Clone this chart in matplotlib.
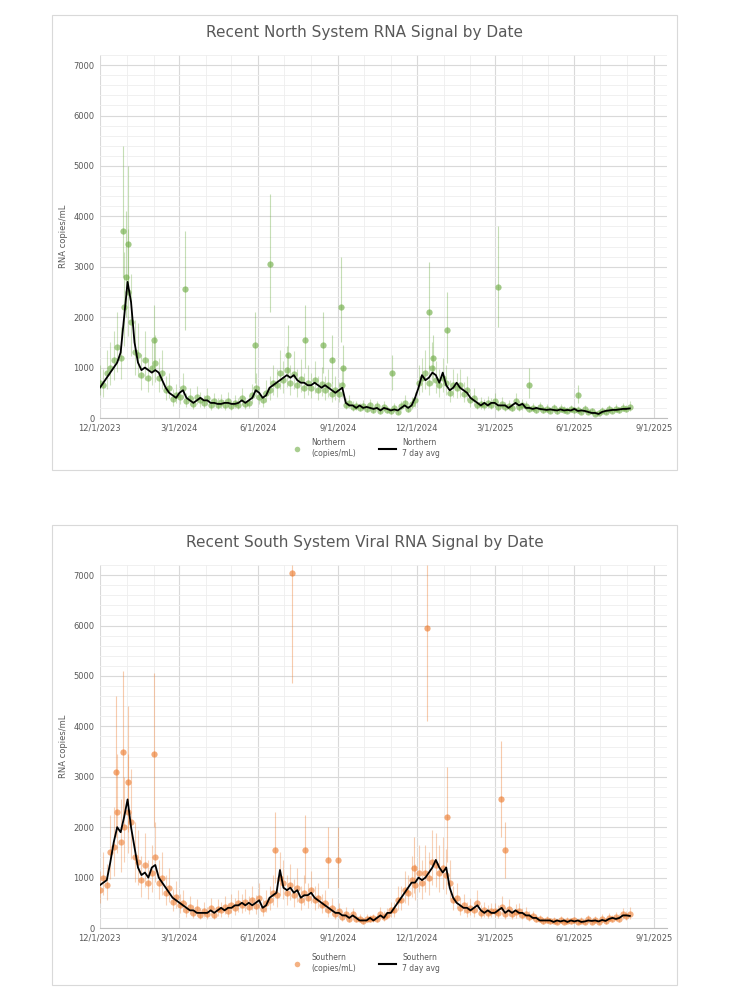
import numpy as np
import pandas as pd
import matplotlib
matplotlib.use("Agg")
import matplotlib.pyplot as plt
import matplotlib.dates as mdates
from matplotlib.lines import Line2D
from matplotlib.patches import Rectangle

START = "2023-12-01"
STEP = "4D"

NORTH_AVG = [
    600, 700, 800, 900, 1000, 1100, 1300, 2000,
    2700, 2300, 1500, 1100, 950, 1000, 950, 900,
    950, 900, 750, 600, 500, 450, 400,
    500, 550, 400, 350, 300, 350, 400, 350,
    350, 300, 300, 280, 280, 300, 300, 280,
    280, 300, 350, 300, 350, 400, 550,
    500, 400, 450, 600, 650, 700, 750, 800,
    850, 800, 850, 750, 700, 700, 650,
    650, 700, 650, 600, 650, 600, 550, 500,
    550, 600, 300, 250, 250, 200, 250,
    200, 220, 200, 180, 200, 150, 200, 180,
    150, 170, 150, 200, 250, 200, 250,
    400, 600, 850, 750, 800, 900, 850, 700,
    900, 650, 550, 600, 700, 600, 550, 500,
    400, 350, 300, 250, 300, 250, 300,
    300, 250, 250, 250, 200, 250, 300, 250,
    280, 200, 200, 180, 200, 180, 170,
    160, 170, 160, 150, 170, 150, 160, 150,
    180, 140, 150, 140, 120, 100, 100,
    80, 120, 140, 150, 160, 160, 170, 180,
    180, 190,
]
NORTH_RAW = [
    700, 650, 900, 1000, 1150, 1400, 1200, 2200,
    2500, 1900, 1300, 1250, 850, 1150, 800, 1000,
    1100, 800, 900, 550, 600, 380, 450,
    420, 600, 330, 400, 280, 420, 350, 300,
    400, 250, 330, 260, 320, 250, 340, 230,
    300, 260, 400, 280, 300, 450, 600,
    420, 350, 500, 550, 700, 650, 900, 750,
    950, 700, 880, 650, 780, 600, 700,
    600, 750, 560, 680, 560, 650, 480, 560,
    480, 650, 260, 300, 220, 230, 200,
    240, 180, 250, 150, 230, 130, 220, 160,
    130, 200, 120, 230, 300, 170, 280,
    350, 700, 800, 900, 700, 1000, 750, 650,
    800, 700, 500, 650, 600, 650, 480, 550,
    350, 400, 260, 280, 250, 290, 260,
    330, 220, 280, 210, 240, 200, 330, 220,
    250, 230, 170, 200, 160, 210, 150,
    180, 140, 190, 130, 180, 160, 140, 170,
    150, 160, 120, 170, 110, 130, 80,
    100, 140, 120, 170, 140, 180, 150, 200,
    170, 220,
]
# outlying samples with wide intervals: date, value, low, high
NORTH_OUT_DATES = ["2023-12-28", "2023-12-31", "2024-01-03", "2024-02-01", "2024-03-08",
                   "2024-05-28", "2024-06-15", "2024-07-05", "2024-07-25", "2024-08-15",
                   "2024-08-25", "2024-09-05", "2024-09-07", "2024-11-02", "2024-12-15",
                   "2024-12-20", "2025-01-05", "2025-03-05", "2025-04-10", "2025-06-05"]
NORTH_OUT_VAL = [3700, 2800, 3450, 1550, 2550, 1450, 3050, 1250, 1550, 1450,
                 1150, 2200, 1000, 900, 2100, 1200, 1750, 2600, 650, 450]
NORTH_OUT_LO = [2800, 2000, 2500, 1000, 1750, 700, 2100, 800, 1000, 900,
                700, 1500, 600, 550, 1000, 700, 1100, 1800, 400, 300]
NORTH_OUT_HI = [5400, 4100, 5000, 2250, 3700, 2100, 4450, 1850, 2250, 2100,
                1650, 3200, 1450, 1250, 3100, 1650, 2500, 3800, 1000, 650]

SOUTH_AVG = [
    850, 900, 950, 1300, 1700, 2000, 1900, 2200,
    2550, 2000, 1600, 1200, 1050, 1100, 1000, 1200,
    1250, 1000, 900, 800, 700, 600, 550,
    500, 450, 400, 350, 350, 300, 300, 300,
    300, 350, 300, 350, 400, 350, 400, 400,
    450, 450, 500, 450, 500, 450, 500,
    550, 400, 450, 600, 650, 700, 1150, 800,
    750, 800, 700, 750, 600, 650, 650,
    700, 600, 550, 500, 450, 400, 350, 300,
    300, 250, 250, 200, 250, 200, 150,
    150, 150, 200, 150, 200, 250, 200, 300,
    300, 400, 500, 600, 700, 800, 900,
    900, 1000, 950, 1000, 1100, 1200, 1350, 1200,
    1100, 1200, 800, 600, 500, 450, 400, 400,
    350, 400, 450, 350, 300, 350, 300,
    300, 350, 400, 300, 350, 300, 350, 300,
    300, 250, 250, 200, 200, 150, 150,
    150, 150, 120, 150, 130, 150, 120, 150,
    130, 150, 120, 130, 150, 140, 150,
    130, 160, 140, 180, 200, 180, 200, 250,
    250, 240,
]
SOUTH_RAW = [
    750, 1000, 850, 1500, 1600, 2300, 1700, 2000,
    2300, 2100, 1400, 1300, 950, 1250, 900, 1100,
    1400, 900, 1000, 700, 800, 520, 620,
    450, 500, 350, 420, 300, 380, 260, 340,
    280, 400, 260, 380, 350, 420, 330, 450,
    400, 500, 450, 520, 420, 550, 430,
    600, 380, 500, 550, 700, 650, 1000, 900,
    700, 850, 650, 800, 550, 700, 600,
    750, 550, 600, 450, 500, 350, 400, 280,
    330, 220, 280, 180, 270, 170, 180,
    130, 180, 170, 190, 170, 280, 220, 260,
    350, 350, 550, 550, 750, 700, 950,
    850, 1100, 900, 1100, 1000, 1300, 1250, 1100,
    1200, 1050, 900, 550, 600, 400, 450, 350,
    400, 350, 500, 300, 350, 300, 330,
    330, 300, 420, 280, 380, 270, 320, 330,
    260, 280, 220, 230, 180, 170, 130,
    160, 130, 140, 120, 160, 110, 140, 130,
    150, 120, 140, 110, 170, 120, 160,
    110, 180, 130, 200, 170, 210, 180, 270,
    230, 280,
]
SOUTH_OUT_DATES = ["2023-12-20", "2023-12-28", "2024-01-02", "2024-02-01", "2024-06-20",
                   "2024-07-10", "2024-07-25", "2024-08-20", "2024-09-01", "2024-11-28",
                   "2024-12-13", "2025-01-05", "2025-03-08", "2025-03-13"]
SOUTH_OUT_VAL = [3100, 3500, 2900, 3450, 1550, 7050, 1550, 1350, 1350, 1200,
                 5950, 2200, 2550, 1550]
SOUTH_OUT_LO = [1800, 2200, 1900, 2000, 900, 4850, 900, 800, 800, 700,
                4100, 1300, 1800, 1000]
SOUTH_OUT_HI = [4600, 5100, 4400, 5050, 2300, 7200, 2250, 2000, 2000, 1800,
                7200, 3200, 3700, 2100]

XTICKS = ["2023-12-01", "2024-03-01", "2024-06-01", "2024-09-01",
          "2024-12-01", "2025-03-01", "2025-06-01", "2025-09-01"]

GREEN = "#70ad47"
ORANGE = "#ed7d31"
GRAY = "#595959"


def draw_panel(fig, box, ax_rect, title, avg, raw, out, color, name):
    fig.patches.append(Rectangle((box[0], box[1]), box[2], box[3], transform=fig.transFigure,
                                 facecolor="white", edgecolor="#d9d9d9", lw=0.8, zorder=-10))
    ax = fig.add_axes(ax_rect)
    ax.patch.set_alpha(0)
    dates = pd.date_range(START, periods=len(avg), freq=STEP)
    raw = np.array(raw, dtype=float)
    ax.errorbar(dates, raw, yerr=[raw * 0.35, raw * 0.5], fmt="none", ecolor=color,
                alpha=0.35, elinewidth=0.8, zorder=1)
    ax.plot(dates, raw, "o", color=color, ms=4.5, alpha=0.6, mec="none", zorder=2)
    od, ov, lo, hi = out
    od = pd.to_datetime(od)
    ov = np.array(ov, dtype=float)
    ax.errorbar(od, ov, yerr=[ov - np.array(lo), np.array(hi) - ov], fmt="none",
                ecolor=color, alpha=0.4, elinewidth=0.8, zorder=1)
    ax.plot(od, ov, "o", color=color, ms=4.5, alpha=0.65, mec="none", zorder=2)
    ax.plot(dates, avg, color="black", lw=1.3, zorder=3)

    ax.set_xlim(pd.Timestamp("2023-12-01"), pd.Timestamp("2025-09-16"))
    ax.set_ylim(0, 7200)
    ax.set_yticks(range(0, 7001, 1000))
    ax.set_yticks(range(0, 7201, 200), minor=True)
    ticks = pd.to_datetime(XTICKS)
    ax.set_xticks(ticks)
    ax.set_xticklabels([f"{d.month}/{d.day}/{d.year}" for d in ticks])
    ax.xaxis.set_minor_locator(mdates.MonthLocator())
    ax.grid(which="major", color="#d9d9d9", lw=0.8)
    ax.grid(which="minor", color="#eeeeee", lw=0.6)
    ax.set_axisbelow(True)
    for s in ["top", "right", "left"]:
        ax.spines[s].set_visible(False)
    ax.spines["bottom"].set_color("#bfbfbf")
    ax.tick_params(which="both", length=0, labelsize=6, colors=GRAY, pad=4)
    ax.set_ylabel("RNA copies/mL", fontsize=6, color=GRAY)
    fig.text(box[0] + box[2] / 2, box[1] + box[3] - 0.018, title, ha="center", va="center",
             fontsize=11, color=GRAY)
    handles = [Line2D([0], [0], marker="o", ls="none", color=color, alpha=0.6, ms=4, mec="none"),
               Line2D([0], [0], color="black", lw=1.5)]
    fig.legend(handles, [f"{name}\n(copies/mL)", f"{name}\n7 day avg"], ncol=2, frameon=False,
               loc="center", bbox_to_anchor=(box[0] + box[2] / 2, box[1] + 0.022),
               fontsize=5.5, labelcolor=GRAY, handlelength=2.2, columnspacing=3)
    return ax


fig = plt.figure(figsize=(7.29, 10), dpi=100)
draw_panel(fig, (0.071, 0.530, 0.858, 0.455), (0.137, 0.582, 0.778, 0.363),
           "Recent North System RNA Signal by Date", NORTH_AVG, NORTH_RAW,
           (NORTH_OUT_DATES, NORTH_OUT_VAL, NORTH_OUT_LO, NORTH_OUT_HI), GREEN, "Northern")
draw_panel(fig, (0.071, 0.015, 0.858, 0.460), (0.137, 0.072, 0.778, 0.363),
           "Recent South System Viral RNA Signal by Date", SOUTH_AVG, SOUTH_RAW,
           (SOUTH_OUT_DATES, SOUTH_OUT_VAL, SOUTH_OUT_LO, SOUTH_OUT_HI), ORANGE, "Southern")
fig.savefig("out.png", dpi=100)
